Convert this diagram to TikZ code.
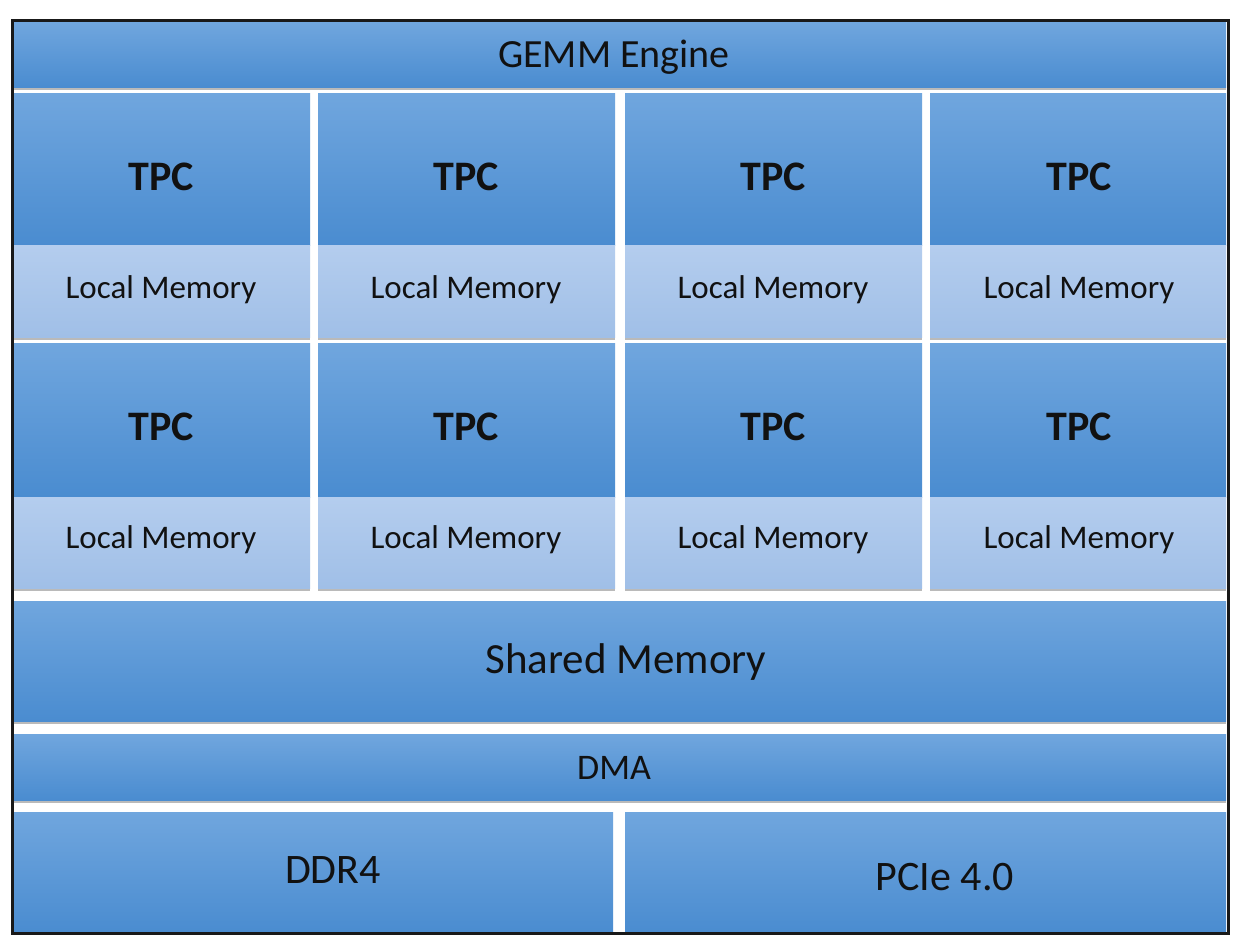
\documentclass[tikz,border=0pt]{standalone}
\usepackage{fontspec}
\setmainfont{Carlito}
\usetikzlibrary{shadows}
\definecolor{btop}{RGB}{112,166,222}
\definecolor{bmid}{RGB}{88,155,220}
\definecolor{bbot}{RGB}{74,140,208}
\definecolor{ltop}{RGB}{180,205,238}
\definecolor{lbot}{RGB}{160,191,231}
\definecolor{txt}{RGB}{17,17,17}
\tikzset{
  blk/.style={rectangle, inner sep=0pt, outer sep=0pt, draw=none,
    top color=btop, middle color=bmid, bottom color=bbot,
    drop shadow={shadow xshift=0pt, shadow yshift=-3pt, opacity=0.45, fill=black!60}},
  lmem/.style={rectangle, inner sep=0pt, outer sep=0pt, draw=none,
    top color=ltop, bottom color=lbot,
    drop shadow={shadow xshift=0pt, shadow yshift=-3pt, opacity=0.45, fill=black!60}},
  lbl/.style={inner sep=0pt, text=txt, anchor=center},
}
\begin{document}
\begin{tikzpicture}[x=1pt,y=-1pt]
\fill[white] (0,0) rectangle (1244,948);
\useasboundingbox (0,0) rectangle (1244,948);
% GEMM
\node[blk, minimum width=1212pt, minimum height=65pt] (gemm) at (620,54.5) {};
\node[lbl, font=\fontsize{40}{42}\selectfont] (gemmt) at (614,57) {GEMM Engine};
% TPC grid
\foreach \i/\xa/\xb/\tx in {1/14/310/161, 2/318/615/466, 3/625/922/773, 4/930/1226/1079}{
  \foreach \r/\ya/\yb/\yc/\ty/\ly in {1/93/245/337/177/290, 2/343/497/588/427/540}{
    \node[blk, minimum width={(\xb-\xa)*1pt}, minimum height={(\yb-\ya)*1pt}] (tpc\r\i) at ({(\xa+\xb)/2},{(\ya+\yb)/2}) {};
    \node[lmem, minimum width={(\xb-\xa)*1pt}, minimum height={(\yc-\yb)*1pt}] (lm\r\i) at ({(\xa+\xb)/2},{(\yb+\yc)/2}) {};
    \node[lbl, font=\fontsize{42}{44}\selectfont\bfseries] (tpct\r\i) at (\tx,\ty) {TPC};
    \node[lbl, font=\fontsize{33}{35}\selectfont] (lmt\r\i) at (\tx,\ly) {Local Memory};
  }
}
% Shared memory
\node[blk, minimum width=1212pt, minimum height=120pt] (shm) at (620,661) {};
\node[lbl, font=\fontsize{43}{46}\selectfont] (shmt) at (626,662) {Shared Memory};
% DMA
\node[blk, minimum width=1212pt, minimum height=66pt] (dma) at (620,767) {};
\node[lbl, font=\fontsize{36}{38}\selectfont] (dmat) at (614,768) {DMA};
% DDR4 / PCIe
\node[blk, minimum width=599pt, minimum height=120pt] (ddr) at (313.5,872) {};
\node[blk, minimum width=601pt, minimum height=120pt] (pcie) at (925.5,872) {};
\node[lbl, font=\fontsize{42}{44}\selectfont] (ddrt) at (333,870) {DDR4};
\node[lbl, font=\fontsize{42}{44}\selectfont] (pciet) at (945,877) {PCIe 4.0};
% frame
\draw[line width=3pt, black!90] (12,20) rectangle (1228,933);
\end{tikzpicture}
\end{document}
